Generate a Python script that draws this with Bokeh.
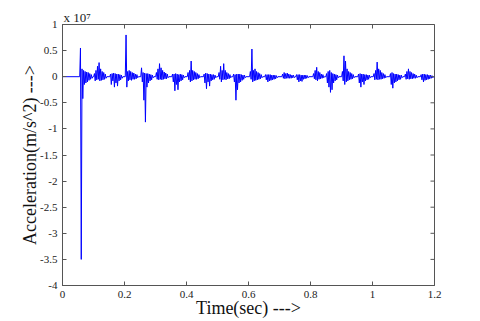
import math
from bokeh.plotting import figure
from bokeh.models import FixedTicker, Range1d
from bokeh.embed import file_html
from bokeh.resources import INLINE

# ---- data (acceleration in units of 1e7 m/s^2) ----
x_ticks = [0, 0.2, 0.4, 0.6, 0.8, 1.0, 1.2]
x_tick_labels = ["0", "0.2", "0.4", "0.6", "0.8", "1", "1.2"]
y_ticks = [1, 0.5, 0, -0.5, -1, -1.5, -2, -2.5, -3, -3.5, -4]
y_tick_labels = ["1", "0.5", "0", "-0.5", "-1", "-1.5", "-2", "-2.5", "-3", "-3.5", "-4"]

sample_interval = 0.0025
burst_starts = [0.058, 0.103, 0.155, 0.205, 0.255, 0.303, 0.355, 0.405, 0.457, 0.505,
                0.552, 0.606, 0.655, 0.710, 0.755, 0.810, 0.852, 0.903, 0.955, 1.005,
                1.058, 1.106, 1.157]
burst_values = [
    [0.55, -3.5, 0.15, -0.42, 0.12, -0.15, 0.1, -0.12, 0.09, -0.1, 0.08, -0.07, 0.06, -0.05, 0.04, -0.03],
    [0.06, -0.08, 0.12, -0.06, 0.2, -0.05, 0.27, -0.08, 0.15, -0.07, 0.1, -0.06, 0.08, -0.05, 0.05, -0.03],
    [0.05, -0.15, 0.06, -0.08, 0.07, -0.2, 0.06, -0.12, 0.05, -0.18, 0.05, -0.08, 0.04, -0.06, 0.03, -0.03],
    [0.8, -0.2, 0.1, -0.08, 0.12, -0.06, 0.1, -0.07, 0.08, -0.05, 0.07, -0.05, 0.05, -0.04, 0.04, -0.02],
    [0.17, -0.1, 0.08, -0.45, 0.07, -0.87, 0.06, -0.2, 0.06, -0.12, 0.05, -0.08, 0.04, -0.06, 0.03, -0.02],
    [0.08, -0.05, 0.15, -0.06, 0.25, -0.05, 0.17, -0.06, 0.12, -0.05, 0.09, -0.04, 0.07, -0.04, 0.05, -0.02],
    [0.05, -0.1, 0.05, -0.27, 0.06, -0.15, 0.05, -0.25, 0.04, -0.1, 0.05, -0.08, 0.04, -0.06, 0.03, -0.02],
    [0.08, -0.06, 0.12, -0.1, 0.3, -0.08, 0.12, -0.06, 0.1, -0.05, 0.08, -0.05, 0.06, -0.04, 0.04, -0.02],
    [0.05, -0.12, 0.07, -0.23, 0.06, -0.1, 0.05, -0.18, 0.05, -0.08, 0.04, -0.06, 0.04, -0.05, 0.03, -0.02],
    [0.08, -0.05, 0.2, -0.1, 0.12, -0.06, 0.25, -0.05, 0.12, -0.06, 0.08, -0.04, 0.06, -0.04, 0.04, -0.02],
    [0.05, -0.1, 0.04, -0.45, 0.05, -0.25, 0.05, -0.12, 0.05, -0.1, 0.04, -0.07, 0.03, -0.05, 0.03, -0.02],
    [0.1, -0.05, 0.53, -0.1, 0.12, -0.08, 0.15, -0.07, 0.1, -0.06, 0.08, -0.05, 0.06, -0.04, 0.04, -0.02],
    [0.04, -0.06, 0.04, -0.1, 0.04, -0.08, 0.04, -0.07, 0.03, -0.06, 0.03, -0.05, 0.03, -0.04, 0.02, -0.02],
    [0.05, -0.03, 0.08, -0.04, 0.06, -0.03, 0.07, -0.03, 0.05, -0.03, 0.04, -0.03, 0.03, -0.02, 0.03, -0.02],
    [0.04, -0.06, 0.04, -0.1, 0.04, -0.08, 0.03, -0.09, 0.03, -0.05, 0.03, -0.04, 0.03, -0.03, 0.02, -0.02],
    [0.06, -0.04, 0.12, -0.06, 0.18, -0.08, 0.1, -0.05, 0.08, -0.04, 0.05, -0.03, 0.04, -0.02],
    [0.06, -0.12, 0.1, -0.2, 0.12, -0.3, 0.08, -0.25, 0.06, -0.12, 0.05, -0.08, 0.04, -0.06, 0.03, -0.02],
    [0.1, -0.08, 0.4, -0.15, 0.3, -0.1, 0.15, -0.08, 0.1, -0.06, 0.08, -0.05, 0.06, -0.04, 0.04, -0.02],
    [0.05, -0.12, 0.06, -0.2, 0.05, -0.1, 0.05, -0.15, 0.04, -0.08, 0.04, -0.06, 0.03, -0.05, 0.03, -0.02],
    [0.06, -0.06, 0.12, -0.05, 0.28, -0.06, 0.15, -0.05, 0.12, -0.05, 0.08, -0.04, 0.06, -0.03, 0.04, -0.02],
    [0.06, -0.15, 0.08, -0.22, 0.06, -0.12, 0.05, -0.1, 0.05, -0.08, 0.04, -0.06, 0.03, -0.05, 0.03, -0.02],
    [0.05, -0.05, 0.1, -0.04, 0.15, -0.05, 0.1, -0.04, 0.08, -0.04, 0.06, -0.03, 0.05, -0.03, 0.03, -0.02],
    [0.04, -0.06, 0.05, -0.1, 0.05, -0.07, 0.04, -0.06, 0.04, -0.05, 0.03, -0.04, 0.03, -0.03, 0.02, -0.02],
]

time_s = [0.0]
accel = [0.0]
for t0, vals in zip(burst_starts, burst_values):
    time_s.append(t0 - sample_interval)
    accel.append(0.0)
    for i, v in enumerate(vals):
        time_s.append(t0 + i * sample_interval)
        accel.append(v)
    time_s.append(t0 + len(vals) * sample_interval)
    accel.append(0.0)
time_s.append(1.2)
accel.append(0.0)

SERIF = "Liberation Serif"
AXIS_COLOR = "#555555"

p = figure(width=480, height=321, x_range=Range1d(0, 1.2), y_range=Range1d(-4, 1),
           output_backend="svg", toolbar_location=None,
           min_border_left=62, min_border_right=46, min_border_top=24, min_border_bottom=36,
           outline_line_color=AXIS_COLOR, outline_line_width=1,
           background_fill_color="white", border_fill_color="white")
p.xgrid.visible = False
p.ygrid.visible = False

p.line(time_s, accel, line_color="#0000ff", line_width=1)

# inward tick marks on top and right edges (half of each dash is clipped by the frame)
p.scatter(x=x_ticks, y=[1] * len(x_ticks), marker="dash", angle=math.pi / 2, size=8,
          line_color=AXIS_COLOR, line_width=1)
p.scatter(x=[1.2] * len(y_ticks), y=y_ticks, marker="dash", size=8,
          line_color=AXIS_COLOR, line_width=1)


def style_axis(ax, ticks, labels):
    ax.ticker = FixedTicker(ticks=ticks)
    ax.major_tick_in = 4
    ax.major_tick_out = 0
    ax.minor_tick_in = 0
    ax.minor_tick_out = 0
    ax.axis_line_color = AXIS_COLOR
    ax.major_tick_line_color = AXIS_COLOR
    ax.major_label_overrides = {tk: lb for tk, lb in zip(ticks, labels)}
    ax.major_label_text_font = SERIF
    ax.major_label_text_font_size = "11px"
    ax.major_label_text_color = "#222222"
    ax.major_label_standoff = 5
    ax.axis_label_text_font = SERIF
    ax.axis_label_text_font_size = "18px"
    ax.axis_label_text_font_style = "normal"
    ax.axis_label_text_color = "#111111"


style_axis(p.xaxis[0], x_ticks, x_tick_labels)
style_axis(p.yaxis[0], y_ticks, y_tick_labels)

p.yaxis[0].axis_label = "Acceleration(m/s^2) --->"
p.yaxis[0].axis_label_standoff = -3
p.xaxis[0].axis_label = "Time(sec) --->"
p.xaxis[0].axis_label_standoff = -3

p.title.text = "x 10\u2077"
p.title.align = "left"
p.title.offset = 1
p.title.standoff = 0
p.title.text_font = SERIF
p.title.text_font_size = "13px"
p.title.text_font_style = "normal"
p.title.text_color = "#222222"

open("out.html", "w").write(file_html(p, INLINE))
